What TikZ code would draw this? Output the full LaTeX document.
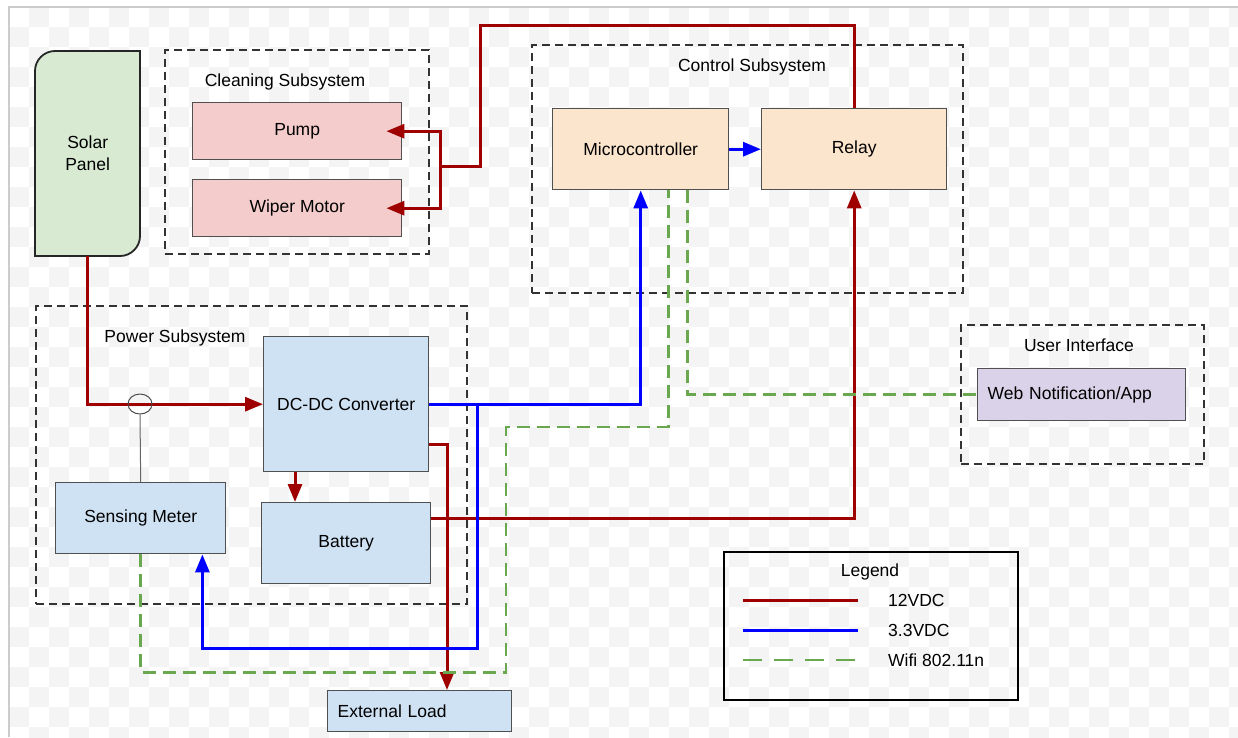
\documentclass[tikz,border=0pt]{standalone}
\usepackage{fontspec}
\setmainfont{Liberation Sans}
\usetikzlibrary{arrows.meta,shapes.geometric}
\definecolor{wirered}{HTML}{9E0000}
\definecolor{wireblue}{HTML}{0000FF}
\definecolor{wifigreen}{HTML}{6AA84F}
\definecolor{edgegray}{HTML}{505050}
\definecolor{solarfill}{HTML}{D9EAD3}
\definecolor{cleanfill}{HTML}{F4CCCC}
\definecolor{ctrlfill}{HTML}{FCE5CD}
\definecolor{powerfill}{HTML}{CFE2F3}
\definecolor{uifill}{HTML}{D9D2E9}
\definecolor{checker}{HTML}{F4F4F4}

\begin{document}
\begin{tikzpicture}[x=1pt, y=-1pt,
    font=\fontsize{17.5}{22}\selectfont,
    blk/.style={draw=edgegray, line width=1.4pt, anchor=north west, align=center, inner sep=0pt},
    grp/.style={draw=black!80, line width=2pt, dash pattern=on 8pt off 5pt, anchor=north west, inner sep=0pt},
    v12/.style={draw=wirered, line width=3pt},
    v33/.style={draw=wireblue, line width=3pt},
    wifi/.style={draw=wifigreen, line width=2.6pt, dash pattern=on 13pt off 7pt},
    tip/.style={-{Triangle[length=18pt,width=14pt]}}]
  \useasboundingbox (0,0) rectangle (1238,737);
  \fill[white] (0,0) rectangle (1238,737);
  % canvas checkers and frame
  \begin{scope}
    \clip (9,7) rectangle (1238,737);
    \foreach \i in {0,...,61}{\foreach \j in {0,...,36}{%
      \ifodd\numexpr\i+\j\relax \fill[checker] (9+20*\i,7+20*\j) rectangle ++(20,20);\fi}}
  \end{scope}
  \draw[black!20, line width=1.5pt] (9,737) -- (9,7) -- (1238,7);

  % subsystem frames
  \node[grp, minimum width=264pt, minimum height=204pt] (cleaning) at (164,49) {};
  \node[grp, minimum width=431pt, minimum height=248pt] (control) at (531,44) {};
  \node[grp, minimum width=431pt, minimum height=298pt] (power) at (35,305) {};
  \node[grp, minimum width=243pt, minimum height=139pt] (ui) at (960,324) {};
  \node (cleaninglbl) at (285,82) {Cleaning Subsystem};
  \node (controllbl) at (752,67) {Control Subsystem};
  \node (powerlbl) at (175,338) {Power Subsystem};
  \node (uilbl) at (1079,345) {User Interface};

  % blocks
  \filldraw[fill=solarfill, draw=black!85, line width=1.8pt]
    (35,256) -- (35,71) .. controls (35,60) and (44,51) .. (55,51) -- (140,51)
    -- (140,236) .. controls (140,247) and (131,256) .. (120,256) -- cycle;
  \node[minimum width=105pt, minimum height=205pt, anchor=north west, align=center, inner sep=0pt]
    (solar) at (35,51) {Solar\\Panel};
  \node[blk, fill=cleanfill, minimum width=209pt, minimum height=57pt] (pump) at (192,102) {Pump};
  \node[blk, fill=cleanfill, minimum width=209pt, minimum height=57pt] (wiper) at (192,179) {Wiper Motor};
  \node[blk, fill=ctrlfill, minimum width=176pt, minimum height=81pt] (micro) at (552,108) {Microcontroller};
  \node[blk, fill=ctrlfill, minimum width=185pt, minimum height=81pt] (relay) at (761,108) {Relay};
  \node[blk, fill=powerfill, minimum width=165pt, minimum height=135pt] (dcdc) at (263,336) {DC-DC Converter};
  \node[blk, fill=powerfill, minimum width=170pt, minimum height=71pt] (meter) at (55,482) {Sensing Meter};
  \node[blk, fill=powerfill, minimum width=169pt, minimum height=81pt] (battery) at (261,502) {Battery};
  \node[blk, fill=powerfill, text width=164pt, inner xsep=10pt, align=left, minimum height=41pt]
    (extload) at (327,690) {External Load};
  \node[blk, fill=uifill, text width=188pt, inner xsep=10pt, align=left, minimum height=52pt]
    (web) at (977,368) {Web Notification/App};

  % 12VDC
  \draw[v12, tip] (solar.south) |- (dcdc.west);
  \node[ellipse, draw=black!70, line width=1pt, minimum width=24pt, minimum height=20pt, inner sep=0pt]
    (sensor) at (140,404) {};
  \draw[black!60, line width=1pt] (sensor.south) -- (meter.north);
  \draw[v12, tip] ([xshift=32pt]dcdc.south west) -- ([xshift=34pt]battery.north west);
  \draw[v12, tip] ([yshift=-40pt]dcdc.east) -| ([xshift=120pt]extload.north west);
  \draw[v12, tip] ([yshift=25pt]battery.east) -| (relay.south);
  \coordinate (feed) at (440,166);
  \draw[v12] (relay.north) |- (480,25) |- (feed);
  \draw[v12, tip] (feed) |- ([xshift=-16pt]pump.east);
  \draw[v12, tip] (feed) |- ([xshift=-16pt]wiper.east);

  % 3.3VDC
  \draw[v33, tip] (dcdc.east) -| (micro.south);
  \coordinate (split) at (477,403.5);
  \draw[v33, tip] (split) -- ++(0,244.5) -| ([xshift=-24pt]meter.south east);
  \draw[v33, tip] (micro.east) -- (relay.west);

  % wifi
  \draw[wifi] (meter.south) -- ++(0,118) -| (506,427) -| ([xshift=28pt]micro.south);
  \draw[wifi] ([xshift=47pt]micro.south) |- (web.west);

  % legend
  \node[draw=black, line width=2pt, minimum width=294pt, minimum height=148pt, anchor=north west]
    (legend) at (723,551) {};
  \node (legendlbl) at (870,572) {Legend};
  \coordinate (k12) at (743,600);
  \coordinate (k33) at (743,630);
  \coordinate (kwifi) at (743,660);
  \draw[v12] (k12) -- ++(115,0);
  \draw[v33] (k33) -- ++(115,0);
  \draw[wifi, dash pattern=on 19pt off 12pt] (kwifi) -- ++(115,0);
  \node[anchor=west, inner sep=0pt] (t12) at (888,600) {12VDC};
  \node[anchor=west, inner sep=0pt] (t33) at (888,630) {3.3VDC};
  \node[anchor=west, inner sep=0pt] (twifi) at (888,660) {Wifi 802.11n};
\end{tikzpicture}
\end{document}
